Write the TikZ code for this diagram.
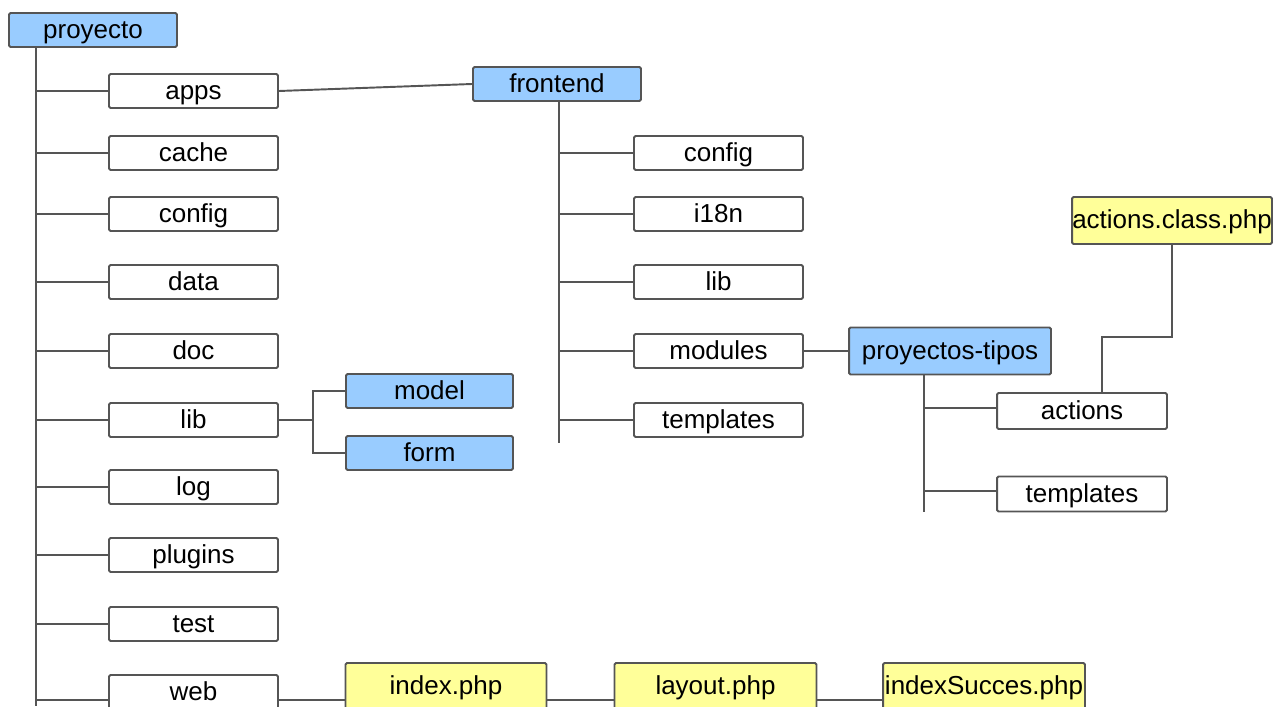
\documentclass[tikz,border=0pt]{standalone}
\usepackage{fontspec}
\setmainfont{Liberation Sans}
\usetikzlibrary{calc,positioning}
\definecolor{dirblue}{HTML}{99CCFF}
\definecolor{fileyellow}{HTML}{FFFF99}
\definecolor{edgegray}{HTML}{555555}

\begin{document}
\begin{tikzpicture}[x=0.02cm,y=-0.02cm,
                folder/.style={draw=edgegray,line width=1.1pt,fill=white,rounded corners=0.8pt,
                        minimum width=3.38cm,minimum height=0.68cm,inner sep=0pt,
                        text height=11pt,text depth=1.8pt,
                        font=\fontsize{14.8}{17}\selectfont},
                mainfolder/.style={folder,fill=dirblue},
                phpfile/.style={folder,fill=fileyellow,minimum height=0.94cm},
                wire/.style={draw=edgegray,line width=1.1pt}]
                \useasboundingbox (0,0) rectangle (1273,706);

                % Define the folders as nodes
                \node[mainfolder,minimum width=3.36cm] (proyecto) at (93,30) {proyecto};

                \node[folder] (apps)    at (193.5,91)  {apps};
                \node[folder] (cache)   at (193.5,153) {cache};
                \node[folder] (config)  at (193.5,214) {config};
                \node[folder] (data)    at (193.5,282) {data};
                \node[folder] (doc)     at (193.5,351) {doc};
                \node[folder] (lib)     at (193.5,420) {lib};
                \node[folder] (log)     at (193.5,487) {log};
                \node[folder] (plugins) at (193.5,555) {plugins};
                \node[folder] (test)    at (193.5,624) {test};
                \node[folder] (web)     at (193.5,692) {web};

                \node[mainfolder,minimum width=3.34cm] (model) at (429.5,391) {model};
                \node[mainfolder,minimum width=3.34cm] (form)  at (429.5,453) {form};

                \node[mainfolder,minimum width=3.36cm] (frontend) at (557,84) {frontend};
                \node[folder] (fconfig)    at (718.5,153) {config};
                \node[folder] (fi18n)      at (718.5,214) {i18n};
                \node[folder] (flib)       at (718.5,282) {lib};
                \node[folder] (modules)    at (718.5,351) {modules};
                \node[folder] (ftemplates) at (718.5,420) {templates};

                \node[mainfolder,minimum width=4.04cm,minimum height=0.94cm] (tipos) at (950,351) {proyectos-tipos};
                \node[folder,minimum width=3.4cm,minimum height=0.72cm] (actions)   at (1082,411) {actions};
                \node[folder,minimum width=3.4cm,minimum height=0.7cm] (ttemplates) at (1082,494) {templates};

                \node[phpfile,minimum width=4cm] (actionsclass) at (1172,220.5) {actions.class.php};

                \node[phpfile,minimum width=4.02cm] (index)  at (446,686.5)   {index.php};
                \node[phpfile,minimum width=4.04cm] (layout) at (715.5,686.5) {layout.php};
                \node[phpfile,minimum width=4.04cm] (succes) at (984,686.5)   {indexSucces.php};

                % Connect the folders with lines
                \coordinate (trunk) at ($(proyecto.south west)+(28,0)$);
                \coordinate (trunkend) at (trunk |- 0,706);
                \path[wire] (trunk) -- (trunkend);
                \foreach \n in {apps,cache,config,data,doc,lib,log,plugins,test}
                    \path[wire] (trunk |- \n.west) -- (\n.west);

                \path[wire] (apps.east) -- (frontend.west);

                \coordinate (libjoin) at ($(lib.east)+(34,0)$);
                \path[wire] (lib.east) -- (libjoin);
                \path[wire] (model.west) -- (libjoin |- model.west) -- (libjoin |- form.west) -- (form.west);

                \coordinate (ftrunk) at ($(frontend.south)+(2,0)$);
                \path[wire] (ftrunk) -- ++(0,341);
                \foreach \n in {fconfig,fi18n,flib,modules,ftemplates}
                    \path[wire] (ftrunk |- \n.west) -- (\n.west);

                \path[wire] (modules.east) -- (tipos.west);

                \coordinate (ttrunk) at ($(tipos.south)+(-26,0)$);
                \path[wire] (ttrunk) -- ++(0,137);
                \path[wire] (ttrunk |- 0,408) -- ($(actions.west)+(0,-3)$);
                \path[wire] (ttrunk |- 0,491) -- ($(ttemplates.west)+(0,-3)$);

                \path[wire] (actionsclass.south) |- ($(actions.north)+(20,-55)$) -- ($(actions.north)+(20,0)$);

                \coordinate (webline) at ($(web.east)+(0,8)$);
                \path[wire] (trunk |- webline) -- (webline -| web.west);
                \path[wire] (webline) -- (webline -| index.west);
                \path[wire] (webline -| index.east) -- (webline -| layout.west);
                \path[wire] (webline -| layout.east) -- (webline -| succes.west);

            \end{tikzpicture}
\end{document}
